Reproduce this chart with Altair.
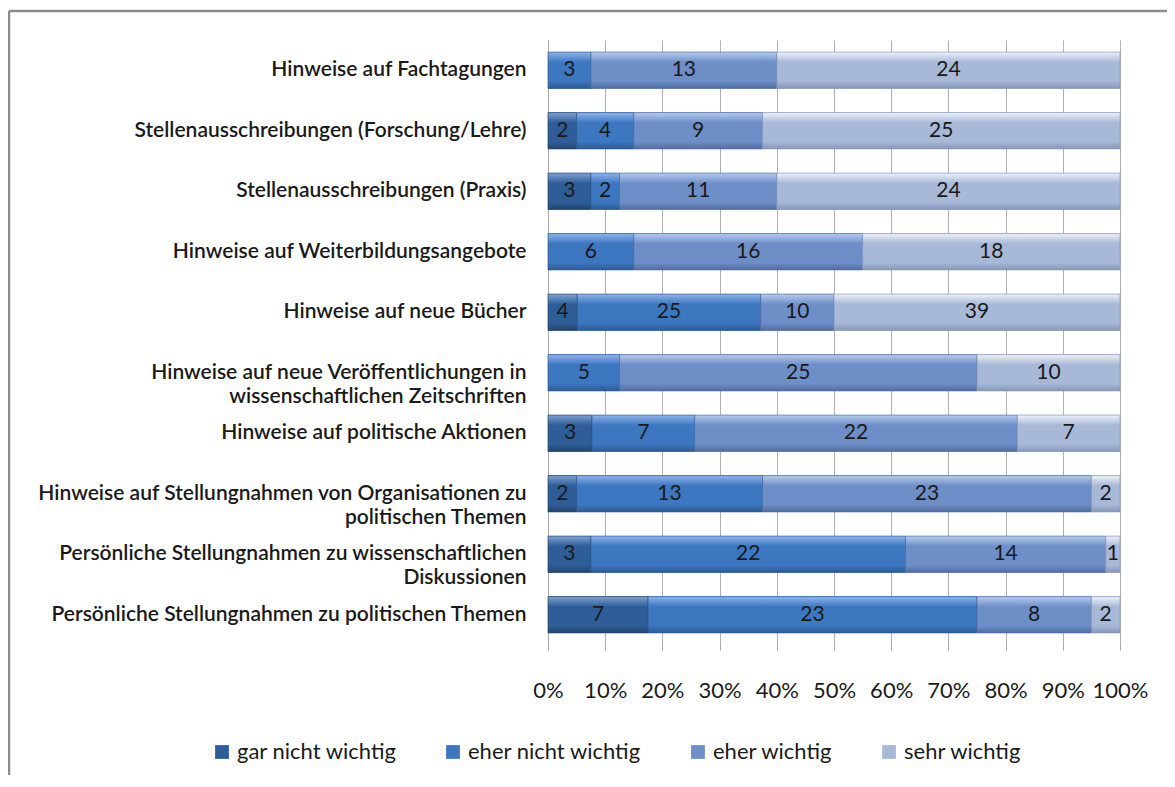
import altair as alt
import pandas as pd

categories = [
    "Hinweise auf Fachtagungen",
    "Stellenausschreibungen (Forschung/Lehre)",
    "Stellenausschreibungen (Praxis)",
    "Hinweise auf Weiterbildungsangebote",
    "Hinweise auf neue Bücher",
    "Hinweise auf neue Veröffentlichungen in|wissenschaftlichen Zeitschriften",
    "Hinweise auf politische Aktionen",
    "Hinweise auf Stellungnahmen von Organisationen zu|politischen Themen",
    "Persönliche Stellungnahmen zu wissenschaftlichen|Diskussionen",
    "Persönliche Stellungnahmen zu politischen Themen",
]
series = ["gar nicht wichtig", "eher nicht wichtig", "eher wichtig", "sehr wichtig"]
gar_nicht = [0, 2, 3, 0, 4, 0, 3, 2, 3, 7]
eher_nicht = [3, 4, 2, 6, 25, 5, 7, 13, 22, 23]
eher = [13, 9, 11, 16, 10, 25, 22, 23, 14, 8]
sehr = [24, 25, 24, 18, 39, 10, 7, 2, 1, 2]
colors = ["#2E5D97", "#3C77C0", "#6E8EC8", "#A8B8D7"]
light = ["#7FA3D4", "#8FB5EC", "#B6CCEE", "#EEF2FA"]
dark = ["#22466F", "#2C5B96", "#506DA2", "#8797BA"]
ticks = [0, 0.1, 0.2, 0.3, 0.4, 0.5, 0.6, 0.7, 0.8, 0.9, 1.0]

rows = []
for s_i, (s, vals) in enumerate(zip(series, [gar_nicht, eher_nicht, eher, sehr])):
    for c, v in zip(categories, vals):
        if v > 0:
            rows.append({"cat": c, "series": s, "ord": s_i, "v": v})
df = pd.DataFrame(rows)

FONT = "Lato"

base = alt.Chart(df).transform_joinaggregate(
    total="sum(v)", groupby=["cat"]
).transform_window(
    cum="sum(v)", groupby=["cat"], sort=[alt.SortField("ord")]
).transform_calculate(
    x0="(datum.cum - datum.v) / datum.total",
    x1="datum.cum / datum.total",
    xm="(datum.cum - datum.v / 2) / datum.total",
)

y_enc = alt.Y(
    "cat:N",
    sort=categories,
    title=None,
    scale=alt.Scale(paddingInner=0.4, paddingOuter=0.2),
    axis=alt.Axis(
        labelExpr="split(datum.label, '|')",
        labelFont=FONT,
        labelFontSize=21,
        labelFontWeight=600,
        labelColor="#1a1a1a",
        labelLineHeight=24,
        labelPadding=22,
        ticks=False,
        domain=True,
        domainColor="#a6a6a6",
        labelLimit=600,
    ),
)

x_enc = alt.X(
    "x0:Q",
    scale=alt.Scale(domain=[0, 1]),
    title=None,
    axis=alt.Axis(
        values=ticks,
        format=".0%",
        labelFont=FONT,
        labelFontSize=22,
        labelColor="#1a1a1a",
        labelPadding=30,
        labelOverlap=False,
        labelFlush=False,
        grid=True,
        gridColor="#b0b0b0",
        domain=False,
        tickColor="#a0a0a0",
        tickSize=5,
    ),
)

bars = base.mark_bar().encode(
    x=x_enc,
    x2="x1:Q",
    y=y_enc,
    color=alt.Color(
        "series:N",
        sort=series,
        scale=alt.Scale(domain=series, range=colors),
        legend=alt.Legend(
            title=None,
            orient="none",
            direction="horizontal",
            legendX=-337,
            legendY=701,
            symbolType="square",
            symbolSize=190,
            symbolStrokeWidth=0,
            labelFont=FONT,
            labelFontSize=22,
            labelColor="#1a1a1a",
            labelLimit=400,
            columnPadding=45,
        ),
    ),
)

shades = []
for s_i, s in enumerate(series):
    grad = alt.Gradient(
        gradient="linear",
        x1=0, x2=0, y1=0, y2=1,
        stops=[
            alt.GradientStop(color=light[s_i], offset=0),
            alt.GradientStop(color=colors[s_i], offset=0.28),
            alt.GradientStop(color=colors[s_i], offset=0.8),
            alt.GradientStop(color=dark[s_i], offset=1),
        ],
    )
    shades.append(
        base.transform_filter(alt.datum.series == s)
        .mark_bar(fill=grad, stroke=dark[s_i], strokeWidth=1, strokeOpacity=0.7)
        .encode(x="x0:Q", x2="x1:Q", y=alt.Y("cat:N", sort=categories))
    )

labels = base.mark_text(font=FONT, fontSize=21, color="#1a1a1a").encode(
    x=alt.X("xm:Q"),
    y=alt.Y("cat:N", sort=categories),
    text=alt.Text("v:Q"),
)

frame = alt.Chart(alt.Data(values=[{}])).mark_rule(color="#8c8c8c", strokeWidth=2.5).encode(
    x=alt.value(-539), x2=alt.value(700), y=alt.value(-29)
)
frame2 = alt.Chart(alt.Data(values=[{}])).mark_rule(color="#8c8c8c", strokeWidth=2.5).encode(
    x=alt.value(-539), y=alt.value(-29), y2=alt.value(800)
)

chart = alt.layer(bars, *shades, labels, frame, frame2).properties(
    width=572,
    height=605,
    autosize=alt.AutoSizeParams(type="none"),
    padding={"left": 540, "top": 32, "right": 47, "bottom": 130},
).configure_view(stroke=None)

chart.save("out.html", embed_options={"renderer": "svg", "actions": False})
